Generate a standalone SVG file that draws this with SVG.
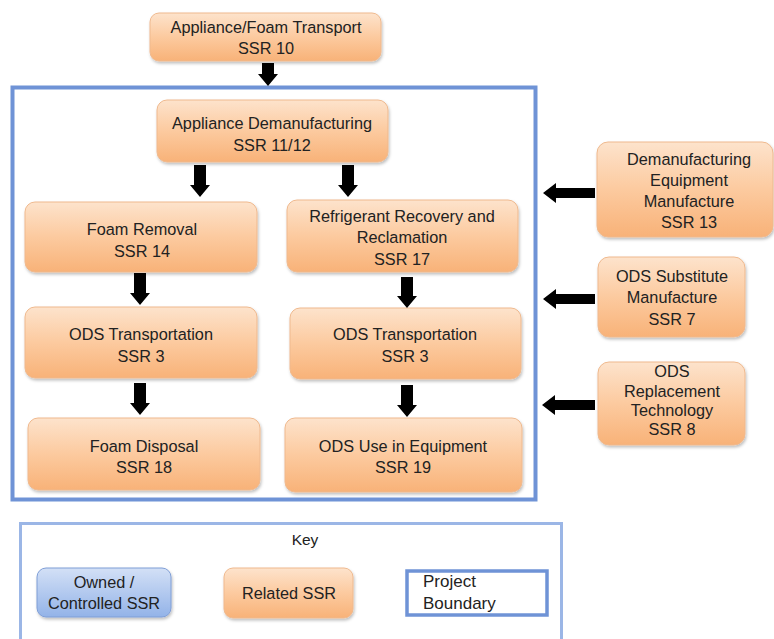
<svg xmlns="http://www.w3.org/2000/svg" width="774" height="639" viewBox="0 0 774 639">
<style>
text{font-family:"Liberation Sans",Arial,sans-serif;font-size:16.3px;fill:#222;text-anchor:middle}
.rel{fill:url(#og);stroke:#efb98e;stroke-width:1;filter:url(#sh)}
.own{fill:url(#bg);stroke:#7f9ed6;stroke-width:1;filter:url(#sh)}
.arr{fill:#000}
</style>
<defs>
<linearGradient id="og" x1="0" y1="0" x2="0" y2="1">
<stop offset="0" stop-color="#fde3cc"/>
<stop offset="0.5" stop-color="#fcca9f"/>
<stop offset="1" stop-color="#f8b278"/>
</linearGradient>
<linearGradient id="bg" x1="0" y1="0" x2="0" y2="1">
<stop offset="0" stop-color="#d3e0f6"/>
<stop offset="1" stop-color="#93b3e8"/>
</linearGradient>
<filter id="sh" x="-10%" y="-10%" width="125%" height="130%">
<feDropShadow dx="1" dy="2" stdDeviation="1.5" flood-color="#000" flood-opacity="0.25"/>
</filter>
</defs>
<rect width="774" height="639" fill="#fff"/>

<g id="project-boundary">
<rect x="12.5" y="87.5" width="523" height="412" fill="none" stroke="#6f93d6" stroke-width="4"/>
</g>

<g id="n-transport">
<rect class="rel" x="150" y="13" width="231" height="48" rx="9"/>
<text x="266" y="33">Appliance/Foam Transport</text>
<text x="266" y="54">SSR 10</text>
</g>
<g id="n-demanuf">
<rect class="rel" x="157" y="100" width="231" height="62" rx="10"/>
<text x="272" y="129">Appliance Demanufacturing</text>
<text x="272" y="151">SSR 11/12</text>
</g>
<g id="n-foam-removal">
<rect class="rel" x="25" y="202" width="232" height="70" rx="10"/>
<text x="142" y="235">Foam Removal</text>
<text x="142" y="257">SSR 14</text>
</g>
<g id="n-refrigerant">
<rect class="rel" x="287" y="200" width="231" height="72" rx="10"/>
<text x="402" y="222">Refrigerant Recovery and</text>
<text x="402" y="243">Reclamation</text>
<text x="402" y="265">SSR 17</text>
</g>
<g id="n-ods-trans-left">
<rect class="rel" x="25" y="307" width="232" height="71" rx="10"/>
<text x="141" y="340">ODS Transportation</text>
<text x="141" y="362">SSR 3</text>
</g>
<g id="n-ods-trans-right">
<rect class="rel" x="290" y="308" width="231" height="71" rx="10"/>
<text x="405" y="340">ODS Transportation</text>
<text x="405" y="362">SSR 3</text>
</g>
<g id="n-foam-disposal">
<rect class="rel" x="28" y="418" width="232" height="72" rx="10"/>
<text x="144" y="452">Foam Disposal</text>
<text x="144" y="473">SSR 18</text>
</g>
<g id="n-ods-use">
<rect class="rel" x="285" y="418" width="237" height="74" rx="10"/>
<text x="403" y="452">ODS Use in Equipment</text>
<text x="403" y="473">SSR 19</text>
</g>
<g id="n-equip-manuf">
<rect class="rel" x="597" y="142" width="176" height="95" rx="11"/>
<text x="689" y="165">Demanufacturing</text>
<text x="689" y="186">Equipment</text>
<text x="689" y="207">Manufacture</text>
<text x="689" y="228">SSR 13</text>
</g>
<g id="n-substitute">
<rect class="rel" x="598" y="257" width="147" height="80" rx="11"/>
<text x="672" y="282">ODS Substitute</text>
<text x="672" y="303">Manufacture</text>
<text x="672" y="325">SSR 7</text>
</g>
<g id="n-replacement">
<rect class="rel" x="598" y="362" width="147" height="83" rx="11"/>
<text x="672" y="377">ODS</text>
<text x="672" y="397">Replacement</text>
<text x="672" y="416">Technology</text>
<text x="672" y="435">SSR 8</text>
</g>

<g id="connectors">
<path class="arr" d="M262 63H274V74H278L268 86L258 74H262Z"/>
<path class="arr" d="M194 165H206V185H210L200 197L190 185H194Z"/>
<path class="arr" d="M342 165H354V185H358L348 197L338 185H342Z"/>
<path class="arr" d="M134 273H146V293H150L140 305L130 293H134Z"/>
<path class="arr" d="M401 277H413V296H417L407 308L397 296H401Z"/>
<path class="arr" d="M134 383H146V403H150L140 415L130 403H134Z"/>
<path class="arr" d="M401 385H413V405H417L407 417L397 405H401Z"/>
<path class="arr" d="M595 188V198H556V203L543 193L556 183V188Z"/>
<path class="arr" d="M595 294V304H556V309L543 299L556 289V294Z"/>
<path class="arr" d="M595 400V410H555V415L542 405L555 395V400Z"/>
</g>

<g id="key">
<rect x="20.5" y="523.5" width="541" height="125" fill="none" stroke="#9bb6e6" stroke-width="3"/>
<text x="305" y="545" style="font-size:15.5px">Key</text>
<g id="key-owned">
<rect class="own" x="37" y="568" width="134" height="49" rx="9"/>
<text x="104" y="588">Owned /</text>
<text x="104" y="609">Controlled SSR</text>
</g>
<g id="key-related">
<rect class="rel" x="224" y="568" width="129" height="50" rx="9"/>
<text x="289" y="599">Related SSR</text>
</g>
<g id="key-boundary">
<rect x="407" y="571" width="140" height="44" fill="#fff" stroke="#6f93d6" stroke-width="3.5"/>
<text x="423" y="587" style="text-anchor:start;font-size:17px">Project</text>
<text x="423" y="609" style="text-anchor:start;font-size:17px">Boundary</text>
</g>
</g>
</svg>
